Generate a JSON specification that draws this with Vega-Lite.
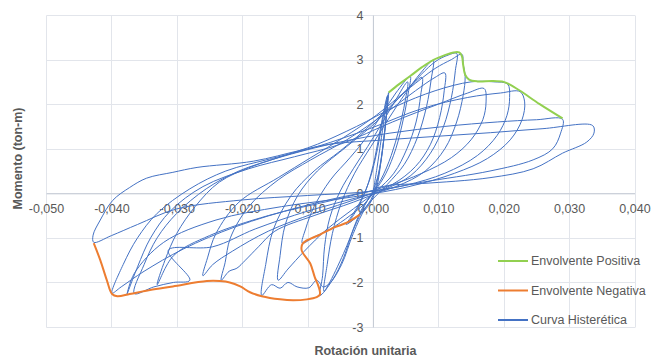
{
  "$schema": "https://vega.github.io/schema/vega-lite/v6.json",
  "width": 588.5,
  "height": 312,
  "autosize": {"type": "none"},
  "padding": {"left": 46, "top": 15, "right": 30, "bottom": 31},
  "background": "white",
  "config": {
    "view": {"stroke": null},
    "font": "Liberation Sans",
    "axis": {
      "grid": true,
      "gridColor": "#E2E5EB",
      "gridWidth": 1,
      "domainColor": "#C3C9D3",
      "domainWidth": 1,
      "ticks": false,
      "tickSize": 0,
      "labelFont": "Liberation Sans",
      "labelFontSize": 12.5,
      "labelColor": "#595959",
      "titleFont": "Liberation Sans",
      "titleFontSize": 12.5,
      "titleFontWeight": "bold",
      "titleColor": "#595959"
    }
  },
  "encoding": {
    "x": {
      "field": "rot",
      "type": "quantitative",
      "scale": {"domain": [-0.05, 0.04], "nice": false, "zero": false},
      "axis": {
        "orient": "bottom",
        "offset": -133.7,
        "values": [-0.05, -0.04, -0.03, -0.02, -0.01, 0, 0.01, 0.02, 0.03, 0.04],
        "labelExpr": "replace(replace(format(datum.value, '.3f'), '.', ','), '\u2212', '-')",
        "labelPadding": 9,
        "labelFlush": false,
        "title": "Rotación unitaria",
        "titleX": 319,
        "titleY": 157,
        "titleBaseline": "middle"
      }
    },
    "y": {
      "field": "mom",
      "type": "quantitative",
      "scale": {"domain": [-3, 4], "nice": false, "zero": false},
      "axis": {
        "orient": "left",
        "offset": -326.9,
        "values": [-3, -2, -1, 0, 1, 2, 3, 4],
        "labelExpr": "replace(format(datum.value, 'd'), '\u2212', '-')",
        "labelPadding": 10,
        "labelFlush": false,
        "title": "Momento (ton-m)",
        "titleX": -355,
        "titleY": 143,
        "titleBaseline": "middle"
      }
    },
    "order": {"value": null}
  },
  "layer": [
    {
      "data": {"values": [
        {"rot": 0, "mom": 0},
        {"rot": 0.0006, "mom": 0.55}, {"rot": 0.0013, "mom": 1.25}, {"rot": 0.0019, "mom": 1.85}, {"rot": 0.0024, "mom": 2.26},
        {"rot": 0.002, "mom": 1.65}, {"rot": 0.0013, "mom": 0.8}, {"rot": 0.0005, "mom": 0.1}, {"rot": -0.0007, "mom": -0.28}, {"rot": -0.0022, "mom": -0.5}, {"rot": -0.0041, "mom": -0.7},
        {"rot": -0.0032, "mom": -0.5}, {"rot": -0.0018, "mom": -0.15}, {"rot": -0.0004, "mom": 0.35}, {"rot": 0.0007, "mom": 1.0}, {"rot": 0.0015, "mom": 1.65}, {"rot": 0.0023, "mom": 2.2},
        {"rot": 0.0018, "mom": 1.4}, {"rot": 0.001, "mom": 0.55}, {"rot": 0, "mom": -0.05}, {"rot": -0.0015, "mom": -0.38}, {"rot": -0.0037, "mom": -0.66},
        {"rot": -0.0026, "mom": -0.4}, {"rot": -0.001, "mom": 0.1}, {"rot": 0.0003, "mom": 0.8}, {"rot": 0.0012, "mom": 1.5}, {"rot": 0.0022, "mom": 2.18},
        {"rot": 0.0017, "mom": 1.25}, {"rot": 0.0007, "mom": 0.35}, {"rot": -0.0008, "mom": -0.15}, {"rot": -0.0035, "mom": -0.5}, {"rot": -0.0065, "mom": -0.8}, {"rot": -0.009, "mom": -0.98}, {"rot": -0.0108, "mom": -1.12},
        {"rot": -0.0103, "mom": -0.8}, {"rot": -0.009, "mom": -0.3}, {"rot": -0.0065, "mom": 0.3}, {"rot": -0.0035, "mom": 0.8}, {"rot": -0.001, "mom": 1.25}, {"rot": 0.0015, "mom": 1.8}, {"rot": 0.0035, "mom": 2.25}, {"rot": 0.0057, "mom": 2.62},
        {"rot": 0.0054, "mom": 2.25}, {"rot": 0.0047, "mom": 1.7}, {"rot": 0.0035, "mom": 1.0}, {"rot": 0.002, "mom": 0.45}, {"rot": 0.0003, "mom": 0.05}, {"rot": -0.0015, "mom": -0.3}, {"rot": -0.003, "mom": -0.8}, {"rot": -0.0045, "mom": -1.45}, {"rot": -0.0062, "mom": -1.95}, {"rot": -0.0081, "mom": -2.29},
        {"rot": -0.0077, "mom": -1.85}, {"rot": -0.0074, "mom": -1.2}, {"rot": -0.0066, "mom": -0.55}, {"rot": -0.005, "mom": 0.05}, {"rot": -0.003, "mom": 0.55}, {"rot": -0.0008, "mom": 1.05}, {"rot": 0.0015, "mom": 1.6}, {"rot": 0.0035, "mom": 2.1}, {"rot": 0.0053, "mom": 2.5},
        {"rot": 0.0049, "mom": 2.05}, {"rot": 0.004, "mom": 1.45}, {"rot": 0.0028, "mom": 0.85}, {"rot": 0.0012, "mom": 0.3}, {"rot": -0.0008, "mom": -0.15}, {"rot": -0.0025, "mom": -0.65}, {"rot": -0.0045, "mom": -1.35}, {"rot": -0.0068, "mom": -2.05}, {"rot": -0.0075, "mom": -2.2},
        {"rot": -0.007, "mom": -1.6}, {"rot": -0.0062, "mom": -0.9}, {"rot": -0.0048, "mom": -0.2}, {"rot": -0.0028, "mom": 0.45}, {"rot": -0.0003, "mom": 1.05}, {"rot": 0.0023, "mom": 1.65}, {"rot": 0.005, "mom": 2.25}, {"rot": 0.0073, "mom": 2.7}, {"rot": 0.0092, "mom": 2.98},
        {"rot": 0.0089, "mom": 2.55}, {"rot": 0.0082, "mom": 1.95}, {"rot": 0.0068, "mom": 1.25}, {"rot": 0.0048, "mom": 0.65}, {"rot": 0.0022, "mom": 0.2}, {"rot": -0.001, "mom": -0.3}, {"rot": -0.003, "mom": -0.9}, {"rot": -0.0048, "mom": -1.6}, {"rot": -0.0065, "mom": -2.0}, {"rot": -0.0076, "mom": -2.1}, {"rot": -0.0086, "mom": -1.95}, {"rot": -0.0098, "mom": -2.12}, {"rot": -0.0116, "mom": -2.1}, {"rot": -0.013, "mom": -2.0}, {"rot": -0.0142, "mom": -2.13}, {"rot": -0.0155, "mom": -2.05}, {"rot": -0.017, "mom": -2.29},
        {"rot": -0.0164, "mom": -1.6}, {"rot": -0.0152, "mom": -0.8}, {"rot": -0.0125, "mom": -0.05}, {"rot": -0.009, "mom": 0.5}, {"rot": -0.005, "mom": 0.95}, {"rot": -0.001, "mom": 1.45}, {"rot": 0.003, "mom": 2.0}, {"rot": 0.0058, "mom": 2.4}, {"rot": 0.0075, "mom": 2.6},
        {"rot": 0.0073, "mom": 2.2}, {"rot": 0.0066, "mom": 1.6}, {"rot": 0.0052, "mom": 1.0}, {"rot": 0.0032, "mom": 0.45}, {"rot": 0.0005, "mom": 0.05}, {"rot": -0.003, "mom": -0.35}, {"rot": -0.007, "mom": -0.8}, {"rot": -0.0105, "mom": -1.3}, {"rot": -0.013, "mom": -1.7}, {"rot": -0.0145, "mom": -1.95},
        {"rot": -0.0142, "mom": -1.4}, {"rot": -0.0134, "mom": -0.7}, {"rot": -0.0115, "mom": -0.05}, {"rot": -0.0085, "mom": 0.5}, {"rot": -0.004, "mom": 1.05}, {"rot": 0.0005, "mom": 1.6}, {"rot": 0.005, "mom": 2.3}, {"rot": 0.0095, "mom": 2.95}, {"rot": 0.0115, "mom": 3.1}, {"rot": 0.0128, "mom": 3.14},
        {"rot": 0.0126, "mom": 2.75}, {"rot": 0.012, "mom": 2.15}, {"rot": 0.0108, "mom": 1.5}, {"rot": 0.0088, "mom": 0.9}, {"rot": 0.0058, "mom": 0.4}, {"rot": 0.002, "mom": 0.1}, {"rot": -0.003, "mom": -0.2}, {"rot": -0.009, "mom": -0.5}, {"rot": -0.015, "mom": -0.85}, {"rot": -0.0175, "mom": -1.2}, {"rot": -0.0195, "mom": -1.5}, {"rot": -0.0208, "mom": -1.68}, {"rot": -0.022, "mom": -1.75}, {"rot": -0.0232, "mom": -1.95},
        {"rot": -0.0226, "mom": -1.55}, {"rot": -0.0218, "mom": -1.0}, {"rot": -0.019, "mom": -0.3}, {"rot": -0.0145, "mom": 0.3}, {"rot": -0.0095, "mom": 0.75}, {"rot": -0.004, "mom": 1.2}, {"rot": 0.0015, "mom": 1.75}, {"rot": 0.0065, "mom": 2.3}, {"rot": 0.0095, "mom": 2.6}, {"rot": 0.011, "mom": 2.7},
        {"rot": 0.0109, "mom": 2.3}, {"rot": 0.0102, "mom": 1.7}, {"rot": 0.0088, "mom": 1.1}, {"rot": 0.0065, "mom": 0.6}, {"rot": 0.003, "mom": 0.2}, {"rot": -0.002, "mom": -0.1}, {"rot": -0.009, "mom": -0.45}, {"rot": -0.016, "mom": -0.85}, {"rot": -0.0215, "mom": -1.3}, {"rot": -0.0245, "mom": -1.6}, {"rot": -0.026, "mom": -1.85},
        {"rot": -0.0253, "mom": -1.45}, {"rot": -0.024, "mom": -0.9}, {"rot": -0.0205, "mom": -0.2}, {"rot": -0.0145, "mom": 0.35}, {"rot": -0.0095, "mom": 0.8}, {"rot": -0.0045, "mom": 1.25}, {"rot": 0.0005, "mom": 1.75}, {"rot": 0.0055, "mom": 2.35}, {"rot": 0.0095, "mom": 2.8}, {"rot": 0.012, "mom": 3.0}, {"rot": 0.0136, "mom": 3.12},
        {"rot": 0.0138, "mom": 2.9}, {"rot": 0.0141, "mom": 2.62}, {"rot": 0.0138, "mom": 2.2}, {"rot": 0.0128, "mom": 1.6}, {"rot": 0.011, "mom": 1.0}, {"rot": 0.008, "mom": 0.5}, {"rot": 0.0035, "mom": 0.15}, {"rot": -0.0025, "mom": -0.1}, {"rot": -0.01, "mom": -0.4}, {"rot": -0.018, "mom": -0.8}, {"rot": -0.0245, "mom": -1.2}, {"rot": -0.0313, "mom": -1.28}, {"rot": -0.028, "mom": -1.95}, {"rot": -0.0305, "mom": -2.0}, {"rot": -0.0335, "mom": -2.1}, {"rot": -0.0365, "mom": -2.25},
        {"rot": -0.035, "mom": -1.6}, {"rot": -0.033, "mom": -1.0}, {"rot": -0.03, "mom": -0.45}, {"rot": -0.0255, "mom": 0.1}, {"rot": -0.0205, "mom": 0.5}, {"rot": -0.0145, "mom": 0.8}, {"rot": -0.0085, "mom": 1.1}, {"rot": -0.0025, "mom": 1.5}, {"rot": 0.0035, "mom": 1.95}, {"rot": 0.0095, "mom": 2.3}, {"rot": 0.015, "mom": 2.5}, {"rot": 0.0185, "mom": 2.5}, {"rot": 0.0206, "mom": 2.45},
        {"rot": 0.0209, "mom": 2.15}, {"rot": 0.0205, "mom": 1.75}, {"rot": 0.019, "mom": 1.3}, {"rot": 0.016, "mom": 0.85}, {"rot": 0.011, "mom": 0.45}, {"rot": 0.005, "mom": 0.18}, {"rot": -0.002, "mom": 0.0}, {"rot": -0.011, "mom": -0.3}, {"rot": -0.021, "mom": -0.75}, {"rot": -0.029, "mom": -1.25}, {"rot": -0.035, "mom": -1.75}, {"rot": -0.0385, "mom": -2.1}, {"rot": -0.0399, "mom": -2.24},
        {"rot": -0.0382, "mom": -1.6}, {"rot": -0.036, "mom": -1.0}, {"rot": -0.033, "mom": -0.45}, {"rot": -0.028, "mom": 0.1}, {"rot": -0.0225, "mom": 0.5}, {"rot": -0.0155, "mom": 0.78}, {"rot": -0.0085, "mom": 1.05}, {"rot": -0.0005, "mom": 1.45}, {"rot": 0.0075, "mom": 1.9}, {"rot": 0.0145, "mom": 2.15}, {"rot": 0.0195, "mom": 2.25}, {"rot": 0.0225, "mom": 2.28},
        {"rot": 0.0232, "mom": 2.05}, {"rot": 0.0228, "mom": 1.65}, {"rot": 0.021, "mom": 1.2}, {"rot": 0.0175, "mom": 0.78}, {"rot": 0.0125, "mom": 0.45}, {"rot": 0.0055, "mom": 0.15}, {"rot": -0.003, "mom": -0.08}, {"rot": -0.014, "mom": -0.3}, {"rot": -0.024, "mom": -0.6}, {"rot": -0.032, "mom": -1.1}, {"rot": -0.0365, "mom": -1.8}, {"rot": -0.0376, "mom": -2.26},
        {"rot": -0.036, "mom": -1.65}, {"rot": -0.034, "mom": -1.0}, {"rot": -0.031, "mom": -0.4}, {"rot": -0.026, "mom": 0.15}, {"rot": -0.019, "mom": 0.55}, {"rot": -0.012, "mom": 0.82}, {"rot": -0.005, "mom": 1.1}, {"rot": 0.003, "mom": 1.6}, {"rot": 0.01, "mom": 2.0}, {"rot": 0.0145, "mom": 2.25}, {"rot": 0.017, "mom": 2.35},
        {"rot": 0.0173, "mom": 2.05}, {"rot": 0.0168, "mom": 1.65}, {"rot": 0.015, "mom": 1.2}, {"rot": 0.012, "mom": 0.8}, {"rot": 0.0075, "mom": 0.45}, {"rot": 0.002, "mom": 0.15}, {"rot": -0.006, "mom": -0.15}, {"rot": -0.016, "mom": -0.5}, {"rot": -0.025, "mom": -0.95}, {"rot": -0.0305, "mom": -1.4}, {"rot": -0.033, "mom": -2.05},
        {"rot": -0.0318, "mom": -1.5}, {"rot": -0.03, "mom": -0.9}, {"rot": -0.0272, "mom": -0.3}, {"rot": -0.0235, "mom": 0.25}, {"rot": -0.0185, "mom": 0.6}, {"rot": -0.0125, "mom": 0.88}, {"rot": -0.005, "mom": 1.15}, {"rot": 0.0026, "mom": 1.35}, {"rot": 0.011, "mom": 1.5}, {"rot": 0.019, "mom": 1.6}, {"rot": 0.025, "mom": 1.65}, {"rot": 0.029, "mom": 1.66},
        {"rot": 0.0287, "mom": 1.35}, {"rot": 0.0275, "mom": 1.0}, {"rot": 0.0245, "mom": 0.75}, {"rot": 0.0179, "mom": 0.5}, {"rot": 0.0076, "mom": 0.25}, {"rot": 0, "mom": 0.05}, {"rot": -0.01, "mom": -0.05}, {"rot": -0.02, "mom": -0.15}, {"rot": -0.03, "mom": -0.35}, {"rot": -0.036, "mom": -0.7}, {"rot": -0.04, "mom": -0.95}, {"rot": -0.0427, "mom": -1.1},
        {"rot": -0.0428, "mom": -0.94}, {"rot": -0.0417, "mom": -0.6}, {"rot": -0.0398, "mom": -0.16}, {"rot": -0.0372, "mom": 0.13}, {"rot": -0.0346, "mom": 0.34}, {"rot": -0.0306, "mom": 0.47}, {"rot": -0.0269, "mom": 0.58}, {"rot": -0.0183, "mom": 0.72}, {"rot": -0.0112, "mom": 0.96}, {"rot": -0.0066, "mom": 1.1}, {"rot": 0.002, "mom": 1.2}, {"rot": 0.01, "mom": 1.28}, {"rot": 0.018, "mom": 1.36}, {"rot": 0.026, "mom": 1.45}, {"rot": 0.0336, "mom": 1.52},
        {"rot": 0.0338, "mom": 1.35}, {"rot": 0.0327, "mom": 1.15}, {"rot": 0.029, "mom": 0.9}, {"rot": 0.0245, "mom": 0.55}, {"rot": 0.0179, "mom": 0.35}, {"rot": 0.0076, "mom": 0.22}, {"rot": 0.0026, "mom": 0.18}, {"rot": 0, "mom": 0.1}
      ]},
      "mark": {"type": "line", "strokeWidth": 1, "interpolate": "catmull-rom"},
      "encoding": {
        "color": {
          "datum": "Curva Histerética",
          "scale": {
            "domain": ["Envolvente Positiva", "Envolvente Negativa", "Curva Histerética"],
            "range": ["#92D050", "#ED7D31", "#4472C4"]
          },
          "legend": {
            "orient": "none",
            "legendX": 451,
            "legendY": 230,
            "title": null,
            "symbolType": "stroke",
            "symbolSize": 900,
            "symbolStrokeWidth": 2,
            "rowPadding": 6.5,
            "labelOffset": 2,
            "labelFont": "Liberation Sans",
            "labelFontSize": 12.5,
            "labelColor": "#595959",
            "labelLimit": 300,
            "padding": 0
          }
        }
      }
    },
    {
      "data": {"values": [
        {"rot": 0.0024, "mom": 2.26}, {"rot": 0.004, "mom": 2.45}, {"rot": 0.0057, "mom": 2.63}, {"rot": 0.0075, "mom": 2.83}, {"rot": 0.0092, "mom": 2.99}, {"rot": 0.011, "mom": 3.1}, {"rot": 0.0123, "mom": 3.16}, {"rot": 0.0132, "mom": 3.16}, {"rot": 0.0136, "mom": 3.08}, {"rot": 0.0138, "mom": 2.88}, {"rot": 0.0141, "mom": 2.66}, {"rot": 0.0147, "mom": 2.55}, {"rot": 0.016, "mom": 2.51}, {"rot": 0.0183, "mom": 2.52}, {"rot": 0.02, "mom": 2.5}, {"rot": 0.0208, "mom": 2.45}, {"rot": 0.0225, "mom": 2.3}, {"rot": 0.0255, "mom": 2.0}, {"rot": 0.029, "mom": 1.68}
      ]},
      "mark": {"type": "line", "strokeWidth": 2, "interpolate": "catmull-rom"},
      "encoding": {"color": {"datum": "Envolvente Positiva"}}
    },
    {
      "data": {"values": [
        {"rot": -0.002, "mom": -0.48}, {"rot": -0.004, "mom": -0.66}, {"rot": -0.0058, "mom": -0.76}, {"rot": -0.008, "mom": -0.92}, {"rot": -0.0107, "mom": -1.12}, {"rot": -0.0109, "mom": -1.28}, {"rot": -0.0096, "mom": -1.57}, {"rot": -0.0089, "mom": -1.88}, {"rot": -0.0083, "mom": -2.1}, {"rot": -0.0081, "mom": -2.27}, {"rot": -0.0086, "mom": -2.33}, {"rot": -0.0101, "mom": -2.38}, {"rot": -0.0122, "mom": -2.4}, {"rot": -0.0142, "mom": -2.38}, {"rot": -0.017, "mom": -2.31}, {"rot": -0.0188, "mom": -2.22}, {"rot": -0.0203, "mom": -2.09}, {"rot": -0.0219, "mom": -2.0}, {"rot": -0.0234, "mom": -1.97}, {"rot": -0.0254, "mom": -1.97}, {"rot": -0.0306, "mom": -2.09}, {"rot": -0.0341, "mom": -2.17}, {"rot": -0.0372, "mom": -2.26}, {"rot": -0.0391, "mom": -2.31}, {"rot": -0.0399, "mom": -2.26}, {"rot": -0.0407, "mom": -1.95}, {"rot": -0.0417, "mom": -1.5}, {"rot": -0.0427, "mom": -1.12}
      ]},
      "mark": {"type": "line", "strokeWidth": 2, "interpolate": "catmull-rom"},
      "encoding": {"color": {"datum": "Envolvente Negativa"}}
    }
  ]
}
